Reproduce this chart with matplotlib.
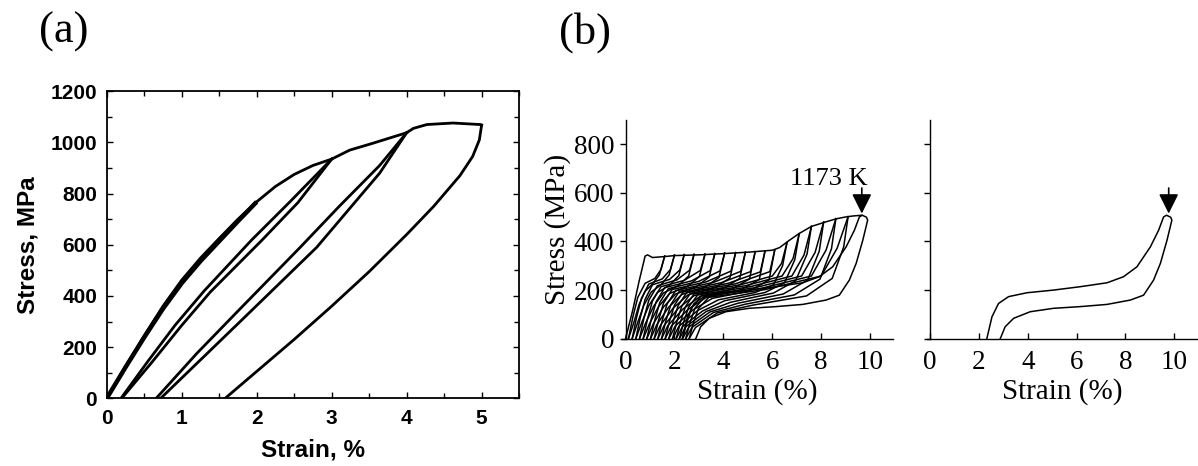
import matplotlib
matplotlib.use("Agg")
import matplotlib.pyplot as plt
from matplotlib.ticker import MultipleLocator

# ---------------- (a) NiTi cycles: strain in %, stress in MPa ----------------
# first loading, 0 -> 3 %
env_x = [0, 0.25, 0.5, 0.75, 1.0, 1.25, 1.5, 1.75, 2.0, 2.25, 2.5, 2.75, 3.0]
env_y = [0, 125, 245, 360, 462, 548, 625, 700, 768, 828, 875, 910, 935]
# repeated cycles overlap near the origin -> thick band
band_x = [0, 0.25, 0.5, 0.75, 1.0, 1.25, 1.5, 1.75, 2.0]
band_y = [0, 121, 238, 350, 450, 536, 614, 692, 768]
# unloading from 3 %
un3_x = [3.0, 2.55, 2.07, 1.38, 1.0, 0.6, 0.2]
un3_y = [935, 765, 618, 415, 285, 140, 0]
# reloading from 0.2 % up to 4 %
re3_x = [0.19, 0.55, 0.91, 1.3, 1.93, 2.45, 3.0, 3.24, 3.55, 4.0]
re3_y = [0, 145, 285, 420, 618, 770, 935, 970, 997, 1038]
# unloading from 4 %
un4_x = [4.0, 3.64, 2.8, 2.22, 1.78, 1.25, 0.72]
un4_y = [1038, 880, 590, 425, 300, 150, 0]
# reloading from 0.66 % up to 5 %
re4_x = [0.66, 1.2, 1.78, 2.58, 3.1, 3.64, 4.0, 4.09, 4.27, 4.62, 4.98, 5.0]
re4_y = [0, 175, 350, 590, 750, 910, 1038, 1055, 1070, 1076, 1070, 1068]
# unloading from 5 %
un5_x = [5.0, 4.97, 4.88, 4.71, 4.36, 4.0, 3.5, 3.0, 2.5, 2.0, 1.58]
un5_y = [1068, 1010, 945, 870, 750, 640, 495, 360, 230, 105, 0]

# ---------------- (b) cyclic test at 1173 K ----------------
benv_x = [0, 0.3, 0.55, 0.8, 0.9, 1.1, 1.6, 2.0, 3.0, 4.0, 5.0, 6.0, 6.3, 6.7,
          7.1, 7.6, 8.2, 8.6, 9.0, 9.3, 9.66]
benv_y = [0, 120, 235, 340, 345, 334, 338, 342, 345, 350, 356, 364, 375, 405,
          433, 462, 481, 493, 501, 505, 508]

cyc_un_x = [
    [1.6, 1.38, 1.1, 0.8, 0.55, 0.35, 0.12],
    [2.0, 1.78, 1.45, 1.05, 0.75, 0.5, 0.27],
    [2.4, 2.18, 1.8, 1.3, 0.95, 0.66, 0.42],
    [2.8, 2.58, 2.15, 1.55, 1.15, 0.82, 0.57],
    [3.25, 3.02, 2.55, 1.8, 1.35, 0.98, 0.72],
    [3.65, 3.42, 2.9, 2.05, 1.55, 1.13, 0.87],
    [4.05, 3.82, 3.25, 2.3, 1.75, 1.28, 1.02],
    [4.5, 4.27, 3.65, 2.55, 1.95, 1.43, 1.17],
    [4.9, 4.67, 4.0, 2.8, 2.15, 1.58, 1.32],
    [5.3, 5.07, 4.35, 3.05, 2.35, 1.73, 1.47],
    [5.7, 5.47, 4.7, 3.3, 2.55, 1.88, 1.62],
    [6.1, 5.87, 5.05, 3.55, 2.75, 2.03, 1.77],
    [6.6, 6.42, 6.05, 5.3, 3.8, 2.95, 2.18, 1.92],
    [7.1, 6.92, 6.5, 5.7, 4.05, 3.15, 2.33, 2.07],
    [7.6, 7.42, 6.95, 6.05, 4.3, 3.3, 2.46, 2.2],
    [8.1, 7.92, 7.45, 6.45, 4.6, 3.45, 2.59, 2.33],
    [8.6, 8.42, 7.95, 6.9, 4.9, 3.6, 2.72, 2.46],
    [9.1, 8.92, 8.45, 7.4, 5.2, 3.75, 2.86, 2.6],
]
cyc_un_y = [
    [340, 262, 225, 195, 140, 70, 0],
    [344, 262, 222, 192, 138, 68, 0],
    [346, 260, 220, 190, 136, 66, 0],
    [347, 258, 218, 188, 134, 64, 0],
    [348, 256, 216, 186, 132, 62, 0],
    [350, 254, 214, 184, 130, 60, 0],
    [352, 252, 212, 182, 128, 58, 0],
    [354, 250, 210, 180, 126, 56, 0],
    [356, 248, 207, 177, 124, 55, 0],
    [358, 246, 204, 174, 122, 54, 0],
    [360, 244, 200, 170, 120, 53, 0],
    [365, 242, 196, 166, 118, 52, 0],
    [395, 300, 222, 190, 160, 116, 51, 0],
    [432, 325, 230, 190, 156, 114, 50, 0],
    [462, 348, 238, 188, 150, 112, 49, 0],
    [480, 360, 242, 184, 146, 110, 48, 0],
    [494, 370, 245, 180, 142, 108, 47, 0],
    [502, 378, 248, 176, 138, 106, 46, 0],
]
cyc_re_x = [
    [0.12, 0.3, 0.5, 0.8, 1.2, 1.45, 1.6],
    [0.27, 0.45, 0.65, 0.95, 1.5, 1.83, 2.0],
    [0.42, 0.6, 0.8, 1.1, 1.8, 2.22, 2.4],
    [0.57, 0.75, 0.95, 1.3, 2.1, 2.62, 2.8],
    [0.72, 0.9, 1.1, 1.45, 2.4, 3.06, 3.25],
    [0.87, 1.05, 1.25, 1.6, 2.7, 3.46, 3.65],
    [1.02, 1.2, 1.4, 1.75, 3.0, 3.86, 4.05],
    [1.17, 1.35, 1.55, 1.9, 3.3, 4.31, 4.5],
    [1.32, 1.5, 1.7, 2.05, 3.6, 4.71, 4.9],
    [1.47, 1.65, 1.85, 2.2, 3.9, 5.11, 5.3],
    [1.62, 1.8, 2.0, 2.35, 4.2, 5.51, 5.7],
    [1.77, 1.95, 2.15, 2.5, 4.5, 5.9, 6.1],
    [1.92, 2.1, 2.3, 2.65, 4.7, 6.0, 6.38, 6.6],
    [2.07, 2.25, 2.45, 2.8, 4.9, 6.4, 6.85, 7.1],
    [2.2, 2.38, 2.58, 2.95, 5.1, 6.8, 7.3, 7.6],
    [2.33, 2.51, 2.71, 3.1, 5.3, 7.2, 7.75, 8.1],
    [2.46, 2.64, 2.84, 3.25, 5.5, 7.6, 8.2, 8.6],
    [2.6, 2.78, 2.98, 3.4, 5.7, 8.0, 8.65, 9.1],
]
cyc_re_y = [
    [0, 90, 170, 228, 248, 285, 340],
    [0, 88, 166, 225, 246, 284, 344],
    [0, 86, 162, 222, 244, 283, 346],
    [0, 84, 158, 218, 242, 282, 347],
    [0, 82, 155, 214, 240, 281, 348],
    [0, 80, 152, 210, 238, 280, 350],
    [0, 78, 149, 206, 236, 279, 352],
    [0, 76, 146, 202, 234, 278, 354],
    [0, 75, 143, 198, 232, 277, 356],
    [0, 74, 140, 195, 230, 276, 358],
    [0, 73, 138, 192, 228, 275, 360],
    [0, 72, 136, 190, 226, 276, 365],
    [0, 71, 134, 187, 222, 258, 310, 395],
    [0, 70, 132, 184, 218, 258, 330, 432],
    [0, 69, 130, 180, 214, 258, 345, 462],
    [0, 68, 128, 177, 210, 258, 355, 480],
    [0, 67, 126, 174, 206, 258, 365, 494],
    [0, 66, 124, 170, 202, 258, 372, 502],
]
# last cycle (also shown alone on the right)
last_x = [2.32, 2.53, 2.8, 3.21, 3.96, 5.05, 6.15, 7.24, 7.92, 8.47, 9.02, 9.36,
          9.56, 9.68, 9.85, 9.9, 9.7, 9.43, 9.15, 8.74, 8.2, 7.24, 6.15, 5.05,
          4.1, 3.42, 3.07, 2.87]
last_y = [0, 90, 145, 173, 189, 200, 214, 230, 255, 296, 378, 447,
          501, 508, 500, 488, 405, 310, 241, 179, 159, 141, 132, 125,
          111, 84, 49, 0]

serif = "Liberation Serif"
sans = "Liberation Sans"

fig = plt.figure(figsize=(11.98, 4.66), dpi=100)

# ---- panel (a)
ax = fig.add_axes([0.0891, 0.1453, 0.3442, 0.6588])
ax.plot(band_x, band_y, color="black", lw=3.2, solid_capstyle="butt")
for xs, ys in [(env_x, env_y), (un3_x, un3_y), (re3_x, re3_y), (un4_x, un4_y),
               (re4_x, re4_y), (un5_x, un5_y)]:
    ax.plot(xs, ys, color="black", lw=2.0, solid_joinstyle="round")
ax.set_xlim(0, 5.5)
ax.set_ylim(0, 1200)
ax.xaxis.set_major_locator(MultipleLocator(1))
ax.xaxis.set_minor_locator(MultipleLocator(0.5))
ax.yaxis.set_major_locator(MultipleLocator(200))
ax.yaxis.set_minor_locator(MultipleLocator(100))
ax.tick_params(which="both", direction="in", top=True, right=True, width=1.0)
ax.tick_params(which="major", length=4)
ax.tick_params(which="minor", length=3.5)
ax.tick_params(axis="y", pad=7)
ax.tick_params(axis="x", pad=8)
for sp in ax.spines.values():
    sp.set_linewidth(1.3)
for lab in ax.get_xticklabels() + ax.get_yticklabels():
    lab.set_fontfamily(sans)
    lab.set_fontweight("bold")
    lab.set_fontsize(15)
ax.set_xlabel("Strain, %", fontsize=17.5, fontweight="bold", family=sans, labelpad=7)
ax.set_ylabel("Stress, MPa", fontsize=17.5, fontweight="bold", family=sans, labelpad=8)


def style_b(axb, labels=True):
    axb.set_xlim(-0.16, 10.95)
    axb.set_ylim(0, 900)
    axb.spines["left"].set_position(("data", 0))
    axb.spines["top"].set_visible(False)
    axb.spines["right"].set_visible(False)
    for s in ("left", "bottom"):
        axb.spines[s].set_linewidth(1.0)
    axb.set_xticks([0, 2, 4, 6, 8, 10])
    axb.set_yticks([0, 200, 400, 600, 800])
    axb.tick_params(axis="x", direction="in", length=4, width=1.0, pad=8,
                    labelsize=19.5)
    axb.tick_params(axis="y", direction="out", length=4, width=1.0, pad=4,
                    labelsize=19.5, labelleft=labels)
    for lab in axb.get_xticklabels() + axb.get_yticklabels():
        lab.set_fontfamily(serif)
    axb.set_xlabel("Strain (%)", fontsize=21, family=serif, labelpad=2)


# ---- panel (b), left: all cycles
bl = fig.add_axes([0.5189, 0.2732, 0.2268, 0.4693])
bl.plot(benv_x, benv_y, color="black", lw=1.1)
for xs, ys in zip(cyc_un_x, cyc_un_y):
    bl.plot(xs, ys, color="black", lw=1.1)
for xs, ys in zip(cyc_re_x, cyc_re_y):
    bl.plot(xs, ys, color="black", lw=1.1)
bl.plot(last_x, last_y, color="black", lw=1.1)
style_b(bl)
bl.set_ylabel("Stress (MPa)", fontsize=21, family=serif, labelpad=2)
bl.annotate("", xy=(9.66, 515), xytext=(9.66, 620),
            arrowprops=dict(arrowstyle="-|>,head_length=0.6,head_width=0.3",
                            color="black", lw=1.2, mutation_scale=20,
                            shrinkA=0, shrinkB=0))
bl.text(8.3, 656, "1173 K", fontsize=19, family=serif, ha="center", va="center")

# ---- panel (b), right: last cycle only
br = fig.add_axes([0.7738, 0.2732, 0.2264, 0.4693])
br.plot(last_x, last_y, color="black", lw=1.1)
style_b(br, labels=False)
br.set_xlim(-0.13, 10.98)
br.annotate("", xy=(9.77, 515), xytext=(9.77, 620),
            arrowprops=dict(arrowstyle="-|>,head_length=0.6,head_width=0.3",
                            color="black", lw=1.2, mutation_scale=20,
                            shrinkA=0, shrinkB=0))

fig.text(0.0534, 0.931, "(a)", fontsize=32, family=serif, ha="center", va="center")
fig.text(0.488, 0.931, "(b)", fontsize=32, family=serif, ha="center", va="center")

fig.savefig("out.png", dpi=100)
